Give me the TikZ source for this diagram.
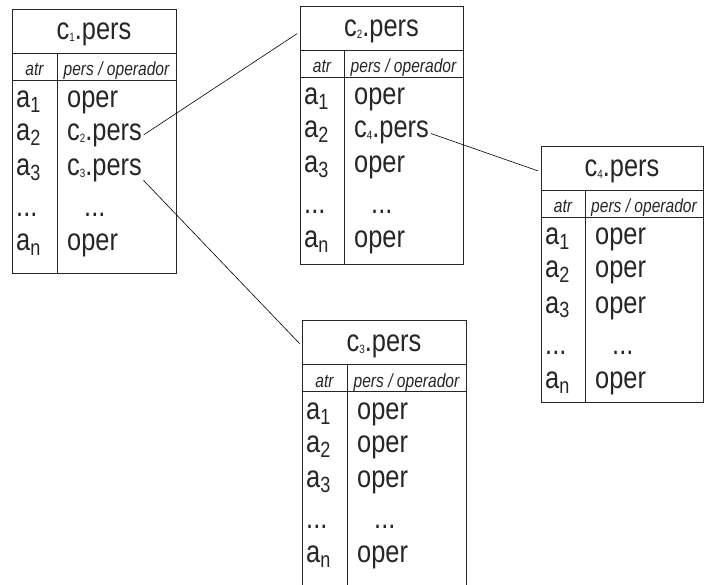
\documentclass[tikz,border=0pt]{standalone}
\usepackage{fontspec}
\setmainfont{Liberation Sans}[FakeStretch=0.82]
\newcommand{\lowsub}[1]{\raisebox{-5pt}{\fontsize{22}{22}\selectfont #1}}
\newcommand{\tinysub}[1]{\raisebox{-2pt}{\fontsize{12}{12}\selectfont #1}}
\newcommand{\dotrow}{...}

\begin{document}
\begin{tikzpicture}[
    x=1pt, y=-1pt,
    font=\fontsize{31}{31}\selectfont,
    every node/.style={inner sep=0pt, text=black!85},
    frame/.style={line width=0.8pt, draw=black!85},
    title/.style={anchor=base},
    head/.style={anchor=base, font=\fontsize{19}{19}\selectfont\itshape},
    cell/.style={anchor=base west},
    link/.style={line width=0.6pt, shorten <=2pt, shorten >=3pt}
  ]
  \useasboundingbox (0,0) rectangle (704,585);
  \foreach \n/\k/\L/\C/\R/\T/\H/\v/\w in {
      c1/1/12/57/176/9/264/{c\tinysub{2}.pers}/{c\tinysub{3}.pers},
      c2/2/300/344/463/6/258/{c\tinysub{4}.pers}/oper,
      c4/4/541/585/703/146/256/oper/oper,
      c3/3/302/347/466/320/270/oper/oper} {
    \draw[frame] (\L,\T) rectangle (\R,\T+\H)
      (\L,\T+44) -- (\R,\T+44) (\L,\T+71) -- (\R,\T+71) (\C,\T+44) -- (\C,\T+\H);
    \node[title, minimum width={(\R-\L)*1pt}] (\n-title) at ({(\L+\R)/2},\T+31) {c\tinysub{\k}.pers};
    \node[head] (\n-atr) at ({(\L+\C)/2},\T+67) {atr};
    \node[head] (\n-op) at ({(\C+\R)/2},\T+67) {pers / operador};
    \foreach \i/\dy/\dx/\l/\r in {1/99/10/{a\lowsub{1}}/oper, 2/132/10/{a\lowsub{2}}/\v,
        3/167/10/{a\lowsub{3}}/\w, 4/208/27/\dotrow/\dotrow, 5/242/10/{a\lowsub{n}}/oper} {
      \node[cell] (\n-a\i) at (\L+4,\T+\dy) {\l};
      \node[cell] (\n-v\i) at (\C+\dx,\T+\dy) {\r};
    }
  }
  \draw[link] (c1-v2.east) -- (c2-title.west);
  \draw[link] (c1-v3.-12) -- (c3-title.west);
  \draw[link] (c2-v2.east) -- (c4-title.west);
\end{tikzpicture}
\end{document}
